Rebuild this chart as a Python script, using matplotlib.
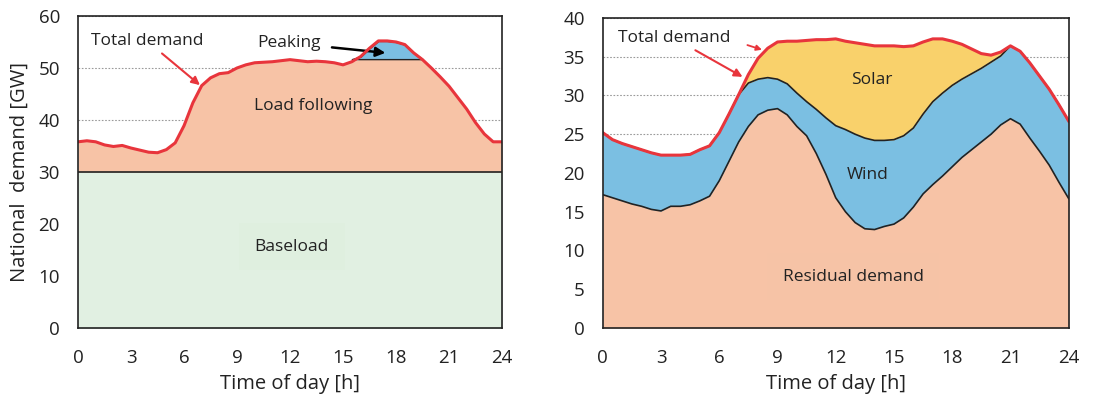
import numpy as np
import matplotlib.pyplot as plt

plt.rcParams['font.family'] = ['Open Sans', 'DejaVu Sans']
plt.rcParams['font.size'] = 12.5
plt.rcParams['text.color'] = '#222222'
plt.rcParams['axes.labelcolor'] = '#222222'
plt.rcParams['xtick.color'] = '#222222'
plt.rcParams['ytick.color'] = '#222222'

# half-hourly grid, 0..24 h
hours = np.arange(0, 24.5, 0.5)

# left panel: typical day, total demand split into baseload / load following / peaking
total_left = [35.8, 36.0, 35.8, 35.2, 34.9, 35.1, 34.6, 34.2, 33.8, 33.7,
              34.3, 35.6, 38.9, 43.3, 46.6, 48.1, 48.9, 49.1, 50.0, 50.6,
              51.0, 51.1, 51.2, 51.4, 51.6, 51.4, 51.2, 51.3, 51.2, 51.0,
              50.6, 51.2, 52.2, 53.8, 55.2, 55.2, 55.0, 54.5, 52.9, 51.6,
              50.0, 48.3, 46.5, 44.3, 42.1, 39.5, 37.3, 35.8, 35.8]
baseload_level = 30.0
peaking_level = 51.7

# right panel: residual demand, + wind, + solar (= total demand)
residual = [17.2, 16.8, 16.4, 16.0, 15.7, 15.3, 15.1, 15.7, 15.7, 15.9,
            16.4, 17.0, 19.0, 21.5, 24.0, 26.0, 27.5, 28.1, 28.3, 27.5,
            26.0, 24.8, 22.5, 19.8, 16.8, 15.0, 13.6, 12.8, 12.7, 13.1,
            13.4, 14.2, 15.6, 17.3, 18.5, 19.6, 20.8, 22.0, 23.0, 24.0,
            25.0, 26.2, 27.0, 26.3, 24.5, 22.8, 21.0, 18.8, 16.7]
residual_plus_wind = [25.2, 24.3, 23.8, 23.4, 23.0, 22.6, 22.3, 22.3, 22.3, 22.4,
                      23.0, 23.5, 25.2, 27.6, 30.1, 31.6, 32.1, 32.3, 32.1, 31.5,
                      30.3, 29.2, 28.2, 27.1, 26.1, 25.6, 25.0, 24.5, 24.2, 24.2,
                      24.3, 24.8, 25.8, 27.6, 29.2, 30.3, 31.3, 32.1, 32.8, 33.5,
                      34.3, 35.1, 36.4, 35.7, 34.2, 32.5, 30.8, 28.8, 26.7]
total_right = [25.2, 24.3, 23.8, 23.4, 23.0, 22.6, 22.3, 22.3, 22.3, 22.4,
               23.0, 23.5, 25.2, 27.6, 30.1, 32.7, 34.8, 36.1, 36.9, 37.0,
               37.0, 37.1, 37.2, 37.2, 37.3, 37.0, 36.8, 36.6, 36.4, 36.4,
               36.4, 36.3, 36.4, 36.9, 37.3, 37.3, 37.0, 36.6, 36.0, 35.4,
               35.2, 35.6, 36.4, 35.7, 34.2, 32.5, 30.8, 28.8, 26.7]

x_ticks = list(range(0, 25, 3))

c_base = '#e1f0e2'
c_load = '#f7c3a6'
c_blue = '#7bbfe2'
c_solar = '#f9d16b'
c_red = '#e8353c'

total_left = np.array(total_left)
total_right = np.array(total_right)

fig = plt.figure(figsize=(11.04, 3.99), dpi=100)
ax1 = fig.add_axes([0.0707, 0.178, 0.384, 0.782])
ax2 = fig.add_axes([0.546, 0.178, 0.422, 0.777])

for ax in (ax1, ax2):
    ax.set_xlim(0, 24)
    ax.set_xticks(x_ticks)
    ax.set_xlabel('Time of day [h]', fontsize=14.5, labelpad=5)
    ax.tick_params(length=0, labelsize=13.5)
    ax.tick_params(axis='x', pad=15)
    ax.tick_params(axis='y', pad=13)
    ax.set_axisbelow(True)
    ax.grid(axis='y', color='#9a9a9a', linestyle=(0, (1.5, 1.5)), linewidth=0.8)
    for s in ax.spines.values():
        s.set_linewidth(1.2)
        s.set_color('#222222')
        s.set_zorder(5)

# --- left panel
ax1.set_ylim(0, 60)
ax1.set_yticks(range(0, 61, 10))
ax1.fill_between(hours, 0, baseload_level, color=c_base, zorder=1)
ax1.axhline(baseload_level, color='#222222', lw=1.2, zorder=3)
ax1.fill_between(hours, baseload_level, np.minimum(total_left, peaking_level),
                 color=c_load, lw=0, zorder=1)
ax1.fill_between(hours, peaking_level, np.maximum(total_left, peaking_level),
                 where=total_left >= peaking_level, interpolate=True,
                 facecolor=c_blue, edgecolor='#222222', lw=1.0, zorder=2)
ax1.plot(hours, total_left, color=c_red, lw=2.2, zorder=4)
ax1.set_ylabel('National  demand [GW]', fontsize=14.5, labelpad=6)

ax1.text(12.1, 15.6, 'Baseload', ha='center', va='center',
         bbox=dict(boxstyle='square,pad=0.9', facecolor='#dfefdf', edgecolor='none'))
ax1.text(13.3, 42.7, 'Load following', ha='center', va='center')
ax1.annotate('Total demand', xy=(6.9, 46.7), xytext=(3.9, 55.2),
             ha='center', va='center',
             arrowprops=dict(arrowstyle='-|>', color=c_red, lw=1.5,
                             shrinkA=2, shrinkB=0, mutation_scale=12))
ax1.annotate('Peaking', xy=(17.4, 52.9), xytext=(11.95, 54.8),
             ha='center', va='center',
             arrowprops=dict(arrowstyle='-|>', color='black', lw=1.8,
                             shrinkA=6, shrinkB=0, mutation_scale=14))

# --- right panel
ax2.set_ylim(0, 40)
ax2.set_yticks(range(0, 41, 5))
ax2.fill_between(hours, 0, residual, color=c_load, lw=0, zorder=1)
ax2.fill_between(hours, residual, residual_plus_wind, color=c_blue, lw=0, zorder=1)
ax2.fill_between(hours, residual_plus_wind, total_right, color=c_solar, lw=0, zorder=1)
ax2.plot(hours, residual, color='#222222', lw=1.2, zorder=3)
ax2.plot(hours, residual_plus_wind, color='#222222', lw=1.2, zorder=3)
ax2.plot(hours, total_right, color=c_red, lw=2.2, zorder=4)

ax2.text(13.85, 32.0, 'Solar', ha='center', va='center')
ax2.text(13.65, 19.7, 'Wind', ha='center', va='center')
ax2.text(12.9, 6.6, 'Residual demand', ha='center', va='center',
         bbox=dict(boxstyle='square,pad=0.9', facecolor='#f6c3a6', edgecolor='none'))
ax2.annotate('Total demand', xy=(7.2, 32.4), xytext=(3.66, 37.4),
             ha='center', va='center',
             arrowprops=dict(arrowstyle='-|>', color=c_red, lw=1.5,
                             shrinkA=2, shrinkB=0, mutation_scale=12))
ax2.annotate('', xy=(8.2, 35.9), xytext=(7.45, 36.5),
             arrowprops=dict(arrowstyle='-|>', color=c_red, lw=1.3,
                             shrinkA=0, shrinkB=0, mutation_scale=8))

fig.savefig('out.png', dpi=100)
